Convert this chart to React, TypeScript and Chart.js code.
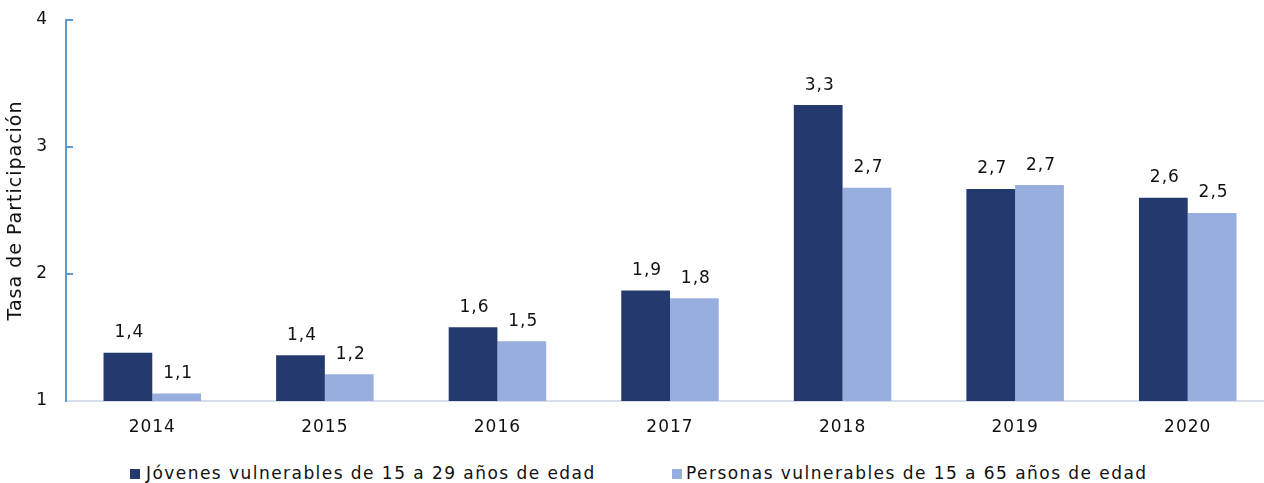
import React, { useEffect, useRef } from 'react';
import { Chart, registerables } from 'chart.js';

Chart.register(...registerables);

const years = ['2014', '2015', '2016', '2017', '2018', '2019', '2020'];
const jovenes = [1.38, 1.36, 1.58, 1.87, 3.33, 2.67, 2.6];
const personas = [1.06, 1.21, 1.47, 1.81, 2.68, 2.7, 2.48];
const seriesNames = [
  'Jóvenes vulnerables de 15 a 29 años de edad',
  'Personas vulnerables de 15 a 65 años de edad',
];
const yMin = 1;
const yMax = 4;
const yStep = 1;
const yTitle = 'Tasa de Participación';

const DARK = '#243a6f';
const LIGHT = '#97aedf';
const AXIS = '#5b9bd5';
const XAXIS = '#d8ddeb';
const TEXT = '#111111';
const FAMILY = "'DejaVu Sans', sans-serif";

const spacingPlugin = {
  id: 'spacing',
  beforeUpdate(chart: any) {
    chart.ctx.letterSpacing = '1px';
  },
  beforeDraw(chart: any) {
    chart.ctx.letterSpacing = '1px';
  },
};

const labelsPlugin = {
  id: 'barLabels',
  afterDatasetsDraw(chart: any) {
    const ctx = chart.ctx;
    ctx.save();
    ctx.font = `17px ${FAMILY}`;
    ctx.letterSpacing = '1px';
    ctx.fillStyle = TEXT;
    ctx.textAlign = 'center';
    ctx.textBaseline = 'middle';
    chart.data.datasets.forEach((ds: any, di: number) => {
      const meta = chart.getDatasetMeta(di);
      meta.data.forEach((el: any, i: number) => {
        const v = ds.data[i] as number;
        ctx.fillText(v.toFixed(1).replace('.', ','), el.x + 1.5, el.y - 20);
      });
    });
    ctx.restore();
  },
};

export default function App() {
  const ref = useRef<HTMLCanvasElement>(null);

  useEffect(() => {
    const canvas = ref.current!;
    const chart = new Chart(canvas, {
      type: 'bar',
      data: {
        labels: years,
        datasets: [
          {
            label: seriesNames[0],
            data: jovenes,
            backgroundColor: DARK,
            categoryPercentage: 0.565,
            barPercentage: 1,
          },
          {
            label: seriesNames[1],
            data: personas,
            backgroundColor: LIGHT,
            categoryPercentage: 0.565,
            barPercentage: 1,
          },
        ],
      },
      options: {
        responsive: false,
        animation: false,
        devicePixelRatio: 1,
        layout: { padding: { top: 20, right: 2, left: 0, bottom: 0 } },
        plugins: {
          legend: { display: false },
          tooltip: { enabled: false },
        },
        scales: {
          x: {
            grid: { display: false, drawTicks: false },
            border: { color: XAXIS, width: 2 },
            ticks: { color: TEXT, font: { family: FAMILY, size: 17 }, padding: 16 },
            afterFit: (s: any) => {
              s.height = 39;
            },
          },
          y: {
            min: yMin,
            max: yMax,
            ticks: {
              stepSize: yStep,
              color: TEXT,
              font: { family: FAMILY, size: 17 },
              padding: 25,
            },
            grid: {
              drawOnChartArea: false,
              drawTicks: true,
              tickLength: -7,
              lineWidth: 2,
              color: (c: any) => (c.tick && c.tick.value === yMin ? 'rgba(0,0,0,0)' : AXIS),
            },
            border: { color: AXIS, width: 2 },
            title: {
              display: true,
              text: yTitle,
              color: TEXT,
              font: { family: FAMILY, size: 19 },
              padding: { top: 5, bottom: 0 },
            },
            afterFit: (s: any) => {
              s.width = 66;
              s.paddingTop = 0;
              s.paddingBottom = 0;
            },
          },
        },
      } as any,
      plugins: [spacingPlugin, labelsPlugin],
    });
    return () => chart.destroy();
  }, []);

  const legendText: React.CSSProperties = {
    position: 'absolute',
    top: 465,
    fontFamily: FAMILY,
    fontSize: 17,
    lineHeight: '17px',
    letterSpacing: '1.45px',
    color: TEXT,
    whiteSpace: 'nowrap',
  };
  const box = (left: number, color: string): React.CSSProperties => ({
    position: 'absolute',
    left,
    top: 469,
    width: 10,
    height: 10,
    background: color,
  });

  return (
    <div
      style={{
        position: 'fixed',
        left: 0,
        top: 0,
        width: 1264,
        height: 483,
        overflow: 'hidden',
        background: '#ffffff',
      }}
    >
      <canvas
        ref={ref}
        width={1276}
        height={440}
        style={{ position: 'absolute', left: 0, top: 0, width: 1276, height: 440 }}
      />
      <div style={box(130, DARK)} />
      <div style={{ ...legendText, left: 146 }}>{seriesNames[0]}</div>
      <div style={box(672, LIGHT)} />
      <div style={{ ...legendText, left: 686 }}>{seriesNames[1]}</div>
    </div>
  );
}
